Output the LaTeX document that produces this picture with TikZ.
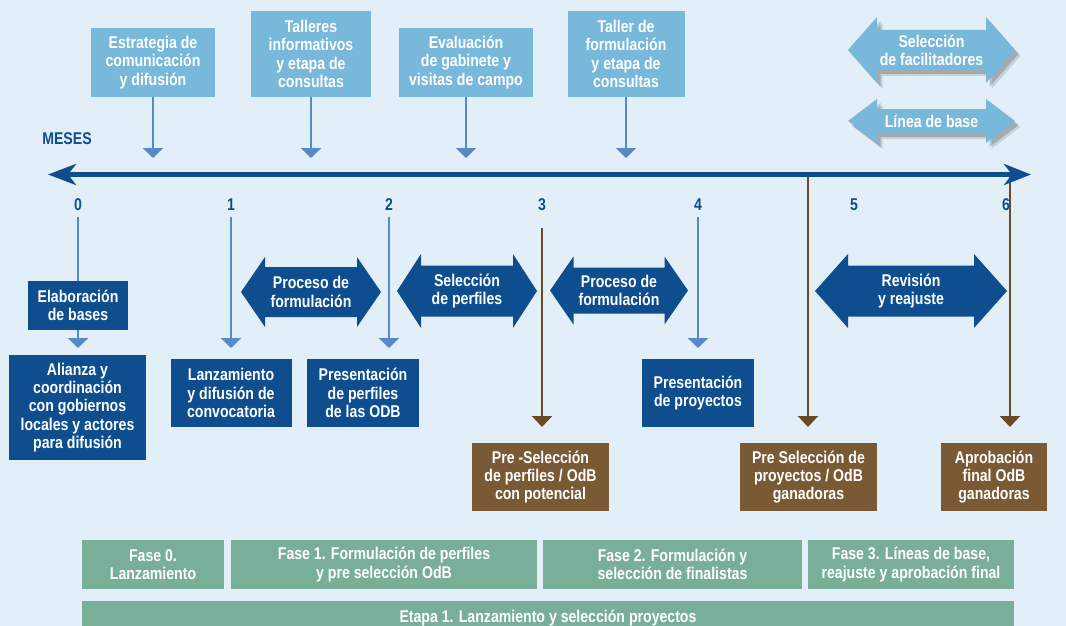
\documentclass[tikz,border=0pt]{standalone}
\usepackage{fontspec}
\setmainfont[FakeStretch=0.83]{Liberation Sans}
\usetikzlibrary{arrows.meta}
\definecolor{bgblue}{RGB}{227,239,248}
\definecolor{skyblue}{RGB}{120,184,218}
\definecolor{deepblue}{RGB}{14,77,142}
\definecolor{linkblue}{RGB}{86,137,200}
\definecolor{brownbox}{RGB}{122,90,52}
\definecolor{brownline}{RGB}{105,74,36}
\definecolor{sage}{RGB}{121,175,152}
\tikzset{>=latex}

% double arrow: centre, half length, half height, half shaft, head length, fill
\newcommand{\dblarrow}[6]{%
  \fill[#6] (#1) ++(-#2,0) -- ++(#5,#3) -- ++(0,#4-#3) -- ++({2*#2-2*#5},0)
    -- ++(0,#3-#4) -- ++(#5,-#3) -- ++(-#5,-#3) -- ++(0,#3-#4)
    -- ++({-2*#2+2*#5},0) -- ++(0,#4-#3) -- cycle;}

\begin{document}
\begin{tikzpicture}[x=1pt, y=-1pt,
    every node/.style={font=\bfseries\fontsize{17}{18.3}\selectfont, text=white, align=center, inner sep=0pt},
    size/.style 2 args={minimum width=#1pt, minimum height=#2pt},
    topbox/.style={fill=skyblue},
    darkbox/.style={fill=deepblue},
    brownbx/.style={fill=brownbox},
    phase/.style={fill=sage},
    month/.style={text=deepblue},
    downlink/.style={draw=linkblue, line width=2.5pt, -{Triangle[width=20pt,length=10pt]}},
    brownlink/.style={draw=brownline, line width=2.5pt, -{Triangle[width=20pt,length=11pt]}},
    plainlink/.style={draw=linkblue, line width=2.5pt}]
  \fill[bgblue] (0,0) rectangle (1066,626);
  \clip (0,0) rectangle (1066,626);

  % upper boxes
  \node[topbox, size={124}{69}] (estr) at (153,62.5) {Estrategia de\\comunicación\\y difusión};
  \node[topbox, size={120}{86}] (tall) at (311,54) {Talleres\\informativos\\y etapa de\\consultas};
  \node[topbox, size={134}{69}] (eval) at (466,62.5) {Evaluación\\de gabinete y\\visitas de campo};
  \node[topbox, size={117}{86}] (tfor) at (626,54) {Taller de\\formulación\\y etapa de\\consultas};
  \coordinate (t1) at (153,158);
  \coordinate (t2) at (311,158);
  \coordinate (t3) at (466,158);
  \coordinate (t4) at (626,158);
  \draw[downlink] (estr) -- (t1);
  \draw[downlink] (tall) -- (t2);
  \draw[downlink] (eval) -- (t3);
  \draw[downlink] (tfor) -- (t4);

  % light arrows with shadow
  \dblarrow{937,56}{83.5}{33}{20}{29}{black, opacity=0.12}
  \dblarrow{935,54}{83.5}{33}{20}{29}{black, opacity=0.18}
  \dblarrow{931.5,50}{83.5}{33}{20}{29}{skyblue}
  \node (facil) at (931.5,50) {Selección\\de facilitadores};
  \dblarrow{937,127}{83.5}{22}{12}{29}{black, opacity=0.12}
  \dblarrow{935,125}{83.5}{22}{12}{29}{black, opacity=0.18}
  \dblarrow{931.5,121}{83.5}{22}{12}{29}{skyblue}
  \node (lbase) at (931.5,121) {Línea de base};

  % months
  \node[month] (meses) at (67,139) {MESES};
  \node[month] (m0) at (78,205) {0};
  \node[month] (m1) at (231,205) {1};
  \node[month] (m2) at (389,205) {2};
  \node[month] (m3) at (542,205) {3};
  \node[month] (m4) at (698,205) {4};
  \node[month] (m5) at (854,205) {5};
  \node[month] (m6) at (1006,205) {6};

  % lower boxes
  \node[darkbox, size={100}{49}] (elab) at (78,305.5) {Elaboración\\de bases};
  \node[darkbox, size={137}{105}] (alian) at (77.5,407.5) {Alianza y\\coordinación\\con gobiernos\\locales y actores\\para difusión};
  \node[darkbox, size={121}{68}] (lanz) at (231,393) {Lanzamiento\\y difusión de\\convocatoria};
  \node[darkbox, size={112}{68}] (pperf) at (363,393) {Presentación\\de perfiles\\de las ODB};
  \node[darkbox, size={112}{68}] (pproy) at (698,393) {Presentación\\de proyectos};
  \node[brownbx, size={137}{68}] (presel) at (540.5,477) {Pre -Selección\\de perfiles / OdB\\con potencial};
  \node[brownbx, size={137}{68}] (presel2) at (808.5,477) {Pre Selección de\\proyectos / OdB\\ganadoras};
  \node[brownbx, size={106}{68}] (aprob) at (994,477) {Aprobación\\final OdB\\ganadoras};

  \coordinate (b1) at (231,348);
  \coordinate (b2) at (389,348);
  \coordinate (b3) at (698,348);
  \draw[plainlink, shorten <=6pt] (m0.south) -- (elab.north);
  \draw[downlink] (elab.south) -- (78,348);
  \draw[downlink, shorten <=6pt] (m1.south) -- (b1);
  \draw[downlink, shorten <=6pt] (m2.south) -- (b2);
  \draw[downlink, shorten <=6pt] (m4.south) -- (b3);

  % brown links
  \coordinate (c3) at (542,228);
  \coordinate (c5) at (808,175);
  \coordinate (c6) at (1010,175);
  \draw[brownlink] (c3) -- (542,427);
  \draw[brownlink] (c5) -- (808,427);
  \draw[brownlink] (c6) -- (1010,427);

  % time axis
  \coordinate (axL) at (48,174.5);
  \coordinate (axR) at (1031,174.5);
  \draw[deepblue, line width=5pt, {Stealth[length=28pt,width=21pt,inset=8pt]}-{Stealth[length=27pt,width=21pt,inset=8pt]}] (axL) -- (axR);

  % dark arrows
  \dblarrow{311,292}{70}{35}{25}{24}{deepblue}
  \node (procA) at (311,292) {Proceso de\\formulación};
  \dblarrow{467,291}{70}{37}{25.5}{24}{deepblue}
  \node (selp) at (467,291) {Selección\\de perfiles};
  \dblarrow{619,290.5}{69}{34}{23}{23.5}{deepblue}
  \node (procB) at (619,290.5) {Proceso de\\formulación};
  \dblarrow{911,291}{96}{37}{25.5}{33}{deepblue}
  \node (revis) at (911,291) {Revisión\\y reajuste};

  % phases
  \node[phase, size={142}{49}] (f0) at (153,564.5) {Fase 0.\\Lanzamiento};
  \node[phase, size={306}{49}] (f1) at (384,564.5) {Fase 1. Formulación de perfiles\\y pre selección OdB};
  \node[phase, size={259}{49}] (f2) at (672.5,564.5) {Fase 2. Formulación y\\selección de finalistas};
  \node[phase, size={206}{49}] (f3) at (911,564.5) {Fase 3. Líneas de base,\\reajuste y aprobación final};
  \node[phase, size={932}{34}] (etapa) at (548,618) {Etapa 1. Lanzamiento y selección proyectos};
\end{tikzpicture}
\end{document}
